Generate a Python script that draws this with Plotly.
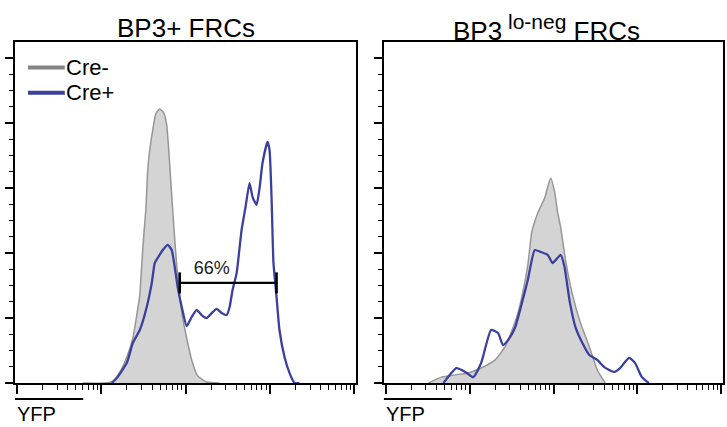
import numpy as np
import plotly.graph_objects as go

FONT = "Liberation Sans, Arial, Helvetica, sans-serif"

# ---------------- data (x as log10 YFP, y as % of max) ----------------
panel_titles = ["BP3+ FRCs", "BP3<sup><span style='font-size:21px'> lo-neg</span></sup> FRCs"]
series_names = ["Cre-", "Cre+"]
axis_label = "YFP"

left_creneg_log = [1.781, 2.041, 2.136, 2.219, 2.302, 2.373, 2.420, 2.456, 2.479, 2.503,
                   2.527, 2.550, 2.574, 2.609, 2.645, 2.692, 2.740, 2.775, 2.799, 2.822,
                   2.858, 2.893, 2.929, 2.964, 3.012, 3.071, 3.142, 3.249, 3.402]
left_creneg_y = [0, 0, 0.6, 3.4, 8.0, 13.8, 20.9, 27.1, 36.3, 45.5,
                 53.2, 65.5, 71.7, 77.8, 82.8, 84.3, 83.1, 79.4, 71.7, 62.5,
                 48.6, 36.3, 27.1, 20.0, 13.8, 7.1, 2.2, 0.3, 0]

left_crepos_log = [2.124, 2.183, 2.302, 2.373, 2.456, 2.538, 2.598, 2.633, 2.669, 2.728,
                   2.787, 2.834, 2.870, 2.905, 2.953, 3.012, 3.071, 3.130, 3.189, 3.249,
                   3.308, 3.367, 3.426, 3.485, 3.521, 3.556, 3.604, 3.663, 3.710, 3.757,
                   3.793, 3.840, 3.876, 3.911, 3.970, 3.994, 4.018, 4.041, 4.077, 4.112,
                   4.172, 4.231, 4.290, 4.349]
left_crepos_y = [0, 1.5, 6.2, 12.3, 16.3, 23.4, 30.8, 36.9, 38.5, 40.9,
                 42.5, 40.9, 35.7, 29.5, 23.4, 17.5, 20.3, 22.5, 20.9, 20.0,
                 21.5, 22.8, 21.5, 20.9, 23.4, 28.6, 33.8, 47.1, 54.2, 61.5,
                 57.2, 54.8, 60.0, 67.7, 74.2, 71.7, 57.2, 36.9, 26.5, 16.3,
                 8.0, 3.1, 0, 0]

right_creneg_log = [1.509, 1.663, 1.828, 1.982, 2.136, 2.302, 2.420, 2.491, 2.574, 2.633,
                    2.692, 2.740, 2.811, 2.893, 2.964, 3.012, 3.047, 3.083, 3.142, 3.225,
                    3.320, 3.426, 3.521, 3.615]
right_creneg_y = [0, 1.8, 2.5, 3.1, 4.6, 7.1, 11.1, 15.4, 21.5, 28.0,
                  36.3, 46.5, 52.3, 56.9, 63.1, 58.8, 52.6, 48.0, 37.8, 27.1,
                  18.5, 11.1, 4.0, 0]

right_crepos_log = [1.686, 1.840, 1.947, 2.041, 2.136, 2.254, 2.337, 2.396, 2.456, 2.538,
                    2.609, 2.692, 2.775, 2.846, 2.929, 2.988, 3.024, 3.083, 3.130, 3.189,
                    3.260, 3.343, 3.426, 3.521, 3.604, 3.722, 3.793, 3.899, 3.970, 4.053,
                    4.136]
right_crepos_y = [0, 4.6, 3.4, 1.8, 6.2, 16.3, 15.4, 11.7, 13.2, 16.9,
                  23.4, 31.7, 40.9, 40.3, 39.4, 36.9, 37.8, 39.4, 35.7, 25.5,
                  17.2, 12.3, 8.6, 7.1, 4.9, 3.4, 4.6, 7.7, 6.2, 1.8,
                  0]

gate_lo_log = 2.929
gate_hi_log = 4.077
gate_y = 30.8
gate_label = "66%"
gate_label_log = 3.308
gate_label_y = 34.8

# ---------------- styles ----------------
GRAY_FILL = "#d4d4d4"
GRAY_LINE = "#969696"
GRAY_LEG = "#858585"
BLUE = "#3b3f9e"
series_colors = [GRAY_LEG, BLUE]

fig = go.Figure()

panels = [
    ("x", "y", left_creneg_log, left_creneg_y, left_crepos_log, left_crepos_y),
    ("x2", "y2", right_creneg_log, right_creneg_y, right_crepos_log, right_crepos_y),
]
for xa, ya, nl, ny, pl, py in panels:
    fig.add_trace(go.Scatter(
        x=10 ** np.array(nl), y=ny, mode="lines", fill="tozeroy", name=series_names[0],
        fillcolor=GRAY_FILL, line=dict(color=GRAY_LINE, width=1.5, shape="spline", smoothing=0.5),
        xaxis=xa, yaxis=ya, showlegend=False, hoverinfo="skip"))
    fig.add_trace(go.Scatter(
        x=10 ** np.array(pl), y=py, mode="lines", name=series_names[1],
        line=dict(color=BLUE, width=2.3, shape="spline", smoothing=0.5),
        xaxis=xa, yaxis=ya, showlegend=False, hoverinfo="skip"))

# gate bar
fig.add_trace(go.Scatter(
    x=[10 ** gate_lo_log, 10 ** gate_hi_log], y=[gate_y, gate_y], mode="lines+markers",
    line=dict(color="black", width=2.2),
    marker=dict(symbol="line-ns", size=15, line=dict(width=2.6, color="black")),
    xaxis="x", yaxis="y", showlegend=False, hoverinfo="skip"))
fig.add_trace(go.Scatter(
    x=[10 ** gate_label_log], y=[gate_label_y], mode="text", text=[gate_label],
    textposition="middle center", textfont=dict(family=FONT, size=18, color="#1a1a1a"),
    xaxis="x", yaxis="y", showlegend=False, hoverinfo="skip"))

minor_vals = [k * 10 ** d for d in range(0, 5) for k in range(2, 10)]

xcommon = dict(type="log", range=[0.976, 5.02], showline=True, linewidth=2, linecolor="black",
               mirror=True, ticks="outside", ticklen=9, tickwidth=1.8, tickcolor="black",
               showticklabels=False, showgrid=False, zeroline=False, dtick=1,
               minor=dict(tickmode="array", tickvals=minor_vals, ticks="outside", ticklen=5,
                          tickwidth=1.4, tickcolor="black", showgrid=False))
ycommon = dict(range=[0, 104.9], showline=True, linewidth=2, linecolor="black", mirror=True,
               ticks="outside", ticklen=8, tickwidth=1.8, tickcolor="black",
               showticklabels=False, showgrid=False, zeroline=False, dtick=20,
               minor=dict(dtick=5, ticks="outside", ticklen=4, tickwidth=1.4,
                          tickcolor="black", showgrid=False))

fig.update_layout(
    width=727, height=427,
    margin=dict(l=15, r=2, t=42, b=44),
    paper_bgcolor="white", plot_bgcolor="white",
    font=dict(family=FONT, color="black"),
    xaxis=dict(domain=[0, 0.4817], anchor="y", **xcommon),
    xaxis2=dict(domain=[0.5211, 1], anchor="y2", **xcommon),
    yaxis=dict(anchor="x", **ycommon),
    yaxis2=dict(anchor="x2", **ycommon),
    showlegend=False,
)

annotations = []
shapes = []
for i, (xd, yd) in enumerate([("x domain", "y domain"), ("x2 domain", "y2 domain")]):
    annotations.append(dict(xref=xd, yref=yd, x=0.5 if i == 0 else 0.48, y=1.041,
                            xanchor="center", yanchor="middle", showarrow=False,
                            text=panel_titles[i], font=dict(family=FONT, size=26, color="black")))
    annotations.append(dict(xref=xd, yref=yd, x=0, y=-0.052, xanchor="left", yanchor="top",
                            showarrow=False, text=axis_label,
                            font=dict(family=FONT, size=20, color="black")))
    shapes.append(dict(type="line", xref=xd, yref=yd, x0=0, x1=0.2, y0=-0.047, y1=-0.047,
                       line=dict(color="black", width=2)))

# legend (drawn inside the left panel, top-left)
legend_rows_y = [0.925, 0.851]
for name, col, ly in zip(series_names, series_colors, legend_rows_y):
    shapes.append(dict(type="line", xref="x domain", yref="y domain", x0=0.038, x1=0.146,
                       y0=ly, y1=ly, line=dict(color=col, width=4)))
    annotations.append(dict(xref="x domain", yref="y domain", x=0.146, y=ly, xanchor="left",
                            yanchor="middle", showarrow=False, text=name, borderpad=0,
                            font=dict(family=FONT, size=22, color="black")))

fig.update_layout(annotations=annotations, shapes=shapes)

fig.write_html("out.html", config={"displayModeBar": False},
               post_script="document.body.style.margin='0px';")
